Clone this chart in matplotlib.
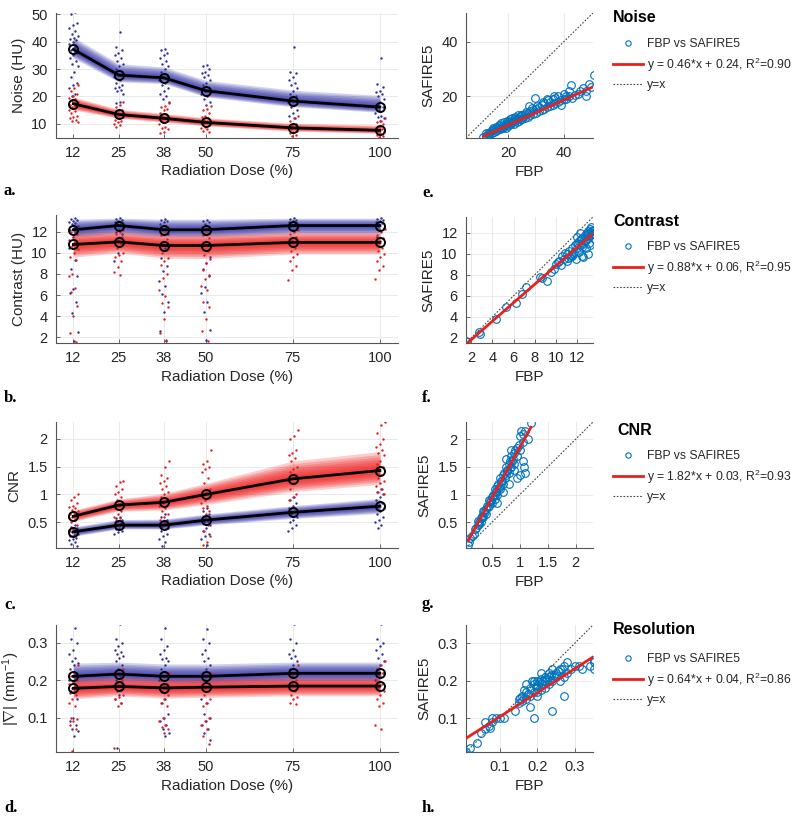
import matplotlib
matplotlib.use('Agg')
import matplotlib.pyplot as plt
import numpy as np

plt.rcParams['font.family'] = ['Liberation Sans', 'DejaVu Sans']
plt.rcParams['mathtext.fontset'] = 'custom'
plt.rcParams['mathtext.rm'] = 'Liberation Sans'
plt.rcParams['mathtext.it'] = 'Liberation Sans:italic'

# ---------------- data ----------------
doses = [12, 25, 38, 50, 75, 100]
dose_labels = ['12', '25', '38', '50', '75', '100']

# Noise (HU)
noise_fbp_mean = [37.2, 27.8, 26.8, 22.1, 18.3, 16.1]
noise_fbp_lo = [34.0, 25.3, 24.7, 19.8, 16.2, 14.2]
noise_fbp_hi = [41.7, 32.0, 30.8, 25.9, 22.3, 20.4]
noise_saf_mean = [17.3, 13.4, 12.0, 10.5, 8.5, 7.6]
noise_saf_lo = [15.0, 12.0, 10.6, 9.2, 7.3, 6.5]
noise_saf_hi = [19.8, 15.3, 13.8, 12.2, 10.2, 9.5]
noise_fbp_pts = [
    [51, 50, 47, 46, 45, 44, 43, 42, 41.5, 41, 40.5, 40, 39, 38, 37, 36, 35, 34, 33, 32, 31, 29, 27, 25, 24, 23, 21, 20],
    [43.5, 38, 37, 36, 35, 34, 33, 32, 31, 30, 29, 28, 27, 26, 25, 24, 23.5, 23, 22.5, 22, 21, 18, 17.5],
    [37.5, 37, 36, 35, 34, 33, 32, 31, 30, 29, 28, 27, 26, 25, 24, 23, 22, 21, 20, 19, 18],
    [31.5, 31, 30, 29, 28.5, 28, 27, 26, 25, 24, 23, 22, 21, 20, 19, 18, 17],
    [38, 29, 28.5, 27, 26, 25, 24, 23, 22, 21, 20, 19, 18, 17, 16, 15, 14, 13, 12],
    [34, 24.5, 23.5, 22, 21.5, 21, 20, 19, 18, 17, 16, 15, 14, 13, 12.5, 12, 11],
]
noise_saf_pts = [
    [24, 23, 22, 21, 20, 19.5, 19, 18.5, 18, 17.5, 17, 16.5, 16, 15, 14.5, 14, 13, 12.5, 12, 11.5, 11, 10.5],
    [18, 17, 16, 15, 14.5, 14, 13.5, 13, 12.5, 12, 11.5, 11, 10.5, 10, 9.5, 9],
    [17.5, 16.5, 16, 15.5, 15, 14, 13.5, 13, 12.5, 12, 11.5, 11, 10.5, 10, 9, 8.5, 8, 7, 6.5],
    [16.5, 15.5, 15, 14, 13, 12.5, 12, 11.5, 11, 10.5, 10, 9.5, 9, 8.5, 8, 7.5, 7],
    [13, 12, 11, 10, 9.5, 9, 8.5, 8, 7.5, 7, 6.5, 6, 5.5],
    [12, 11, 10.5, 10, 9, 8.5, 8, 7.5, 7, 6.5, 6, 5.5, 5],
]

# Contrast (HU)
contrast_fbp_mean = [12.2, 12.6, 12.2, 12.2, 12.6, 12.6]
contrast_fbp_lo = [11.5, 11.8, 11.5, 11.5, 11.8, 11.8]
contrast_fbp_hi = [13.2, 13.3, 13.2, 13.2, 13.3, 13.3]
contrast_saf_mean = [10.8, 11.05, 10.7, 10.7, 11.0, 11.0]
contrast_saf_lo = [9.6, 10.0, 9.5, 9.45, 9.9, 9.9]
contrast_saf_hi = [11.9, 12.1, 11.8, 11.8, 12.0, 12.0]
contrast_fbp_pts = [
    [13.3, 13.2, 13.1, 13.0, 12.9, 12.8, 12.7, 12.6, 12.4, 12.2, 12.0, 11.5, 10.5, 9.3, 8.5, 7.8, 6.6, 6.2, 5.3, 4.3, 2.5, 1.6],
    [13.3, 13.2, 13.1, 13.0, 12.9, 12.8, 12.7, 12.5, 12.3, 12.0, 11.8, 10.0, 9.2],
    [13.2, 13.1, 13.0, 12.9, 12.7, 12.5, 12.2, 11.8, 10.5, 9.5, 8.8, 8.3, 7.3, 6.9, 6.1, 5.3, 4.4, 2.6, 1.6],
    [13.1, 13.0, 12.9, 12.7, 12.5, 12.2, 11.8, 9.6, 9.0, 8.5, 7.8, 6.8, 6.2, 5.3, 4.4, 2.7, 1.7],
    [13.3, 13.2, 13.1, 13.0, 12.9, 12.8, 12.6, 12.4, 12.2],
    [13.3, 13.2, 13.1, 13.0, 12.9, 12.8, 12.6, 12.4, 12.2, 11.5],
]
contrast_saf_pts = [
    [12.4, 12.2, 12.0, 11.8, 11.5, 11.2, 11.0, 10.7, 10.4, 10.0, 9.6, 9.3, 8.0, 7.8, 6.7, 6.3, 5.0, 4.0, 2.4, 1.5],
    [12.2, 12.0, 11.8, 11.5, 11.2, 11.0, 10.8, 10.5, 10.0, 9.8, 9.6, 9.2, 8.7, 8.2, 7.9],
    [12.3, 12.0, 11.7, 11.3, 11.0, 10.7, 10.3, 10.0, 9.5, 9.2, 8.9, 8.0, 7.6, 6.5, 5.9, 5.2, 4.9, 3.7, 2.4, 1.7],
    [12.3, 12.0, 11.7, 11.4, 11.0, 10.6, 10.2, 9.8, 9.4, 9.0, 8.4, 7.9, 7.5, 6.9, 6.5, 5.3, 4.9, 3.7, 2.6, 1.6],
    [12.2, 12.0, 11.8, 11.5, 11.2, 10.9, 10.5, 10.2, 9.9, 9.6, 9.2, 8.8, 8.4, 7.4],
    [12.3, 12.0, 11.7, 11.4, 11.1, 10.8, 10.5, 10.2, 9.9, 9.6, 9.2, 8.8, 8.4, 7.5],
]

# CNR
cnr_fbp_mean = [0.33, 0.45, 0.45, 0.54, 0.68, 0.79]
cnr_fbp_lo = [0.25, 0.38, 0.38, 0.45, 0.57, 0.66]
cnr_fbp_hi = [0.42, 0.55, 0.56, 0.65, 0.80, 0.93]
cnr_saf_mean = [0.61, 0.81, 0.86, 1.00, 1.28, 1.43]
cnr_saf_lo = [0.52, 0.70, 0.72, 0.82, 1.05, 1.18]
cnr_saf_hi = [0.72, 0.92, 1.02, 1.20, 1.60, 1.77]
cnr_fbp_pts = [
    [0.45, 0.42, 0.4, 0.38, 0.36, 0.35, 0.33, 0.3, 0.28, 0.25, 0.22, 0.2, 0.18, 0.15, 0.12, 0.08],
    [0.6, 0.58, 0.55, 0.52, 0.5, 0.48, 0.45, 0.42, 0.4, 0.38, 0.35, 0.32, 0.3],
    [0.65, 0.6, 0.55, 0.5, 0.48, 0.45, 0.42, 0.4, 0.38, 0.35, 0.3, 0.25, 0.2, 0.15, 0.08],
    [0.75, 0.7, 0.65, 0.6, 0.55, 0.52, 0.5, 0.45, 0.4, 0.35, 0.3, 0.25, 0.2, 0.1],
    [0.95, 0.9, 0.85, 0.8, 0.75, 0.7, 0.65, 0.6, 0.55, 0.5, 0.45, 0.4, 0.35],
    [1.1, 1.05, 1.0, 0.95, 0.9, 0.85, 0.8, 0.75, 0.7, 0.65, 0.6, 0.55, 0.5, 0.45, 0.4],
]
cnr_saf_pts = [
    [1.0, 0.95, 0.9, 0.85, 0.8, 0.78, 0.75, 0.72, 0.7, 0.68, 0.65, 0.62, 0.6, 0.58, 0.55, 0.5, 0.45, 0.4, 0.35, 0.3, 0.25],
    [1.25, 1.22, 1.15, 1.1, 1.05, 1.0, 0.95, 0.9, 0.85, 0.8, 0.75, 0.7, 0.65, 0.6, 0.58, 0.55],
    [1.6, 1.5, 1.35, 1.3, 1.25, 1.2, 1.15, 1.1, 1.05, 1.0, 0.95, 0.9, 0.85, 0.8, 0.75, 0.7, 0.65, 0.6, 0.55, 0.5, 0.45],
    [1.8, 1.6, 1.55, 1.5, 1.45, 1.4, 1.3, 1.2, 1.1, 1.05, 1.0, 0.95, 0.9, 0.85, 0.8, 0.75, 0.7, 0.65, 0.55, 0.45, 0.35, 0.25, 0.15, 0.1],
    [2.15, 2.05, 2.0, 1.8, 1.75, 1.7, 1.65, 1.6, 1.5, 1.45, 1.4, 1.35, 1.3, 1.25, 1.2, 1.1, 1.0, 0.95, 0.9],
    [2.3, 2.25, 2.1, 2.0, 1.9, 1.85, 1.8, 1.75, 1.7, 1.6, 1.55, 1.5, 1.45, 1.4, 1.35, 1.3, 1.25, 1.2, 1.15, 1.1, 1.05, 1.0],
]

# Resolution |grad| (mm^-1)
res_fbp_mean = [0.210, 0.216, 0.210, 0.210, 0.218, 0.218]
res_fbp_lo = [0.190, 0.195, 0.190, 0.190, 0.195, 0.195]
res_fbp_hi = [0.245, 0.248, 0.243, 0.243, 0.248, 0.248]
res_saf_mean = [0.178, 0.183, 0.179, 0.181, 0.184, 0.184]
res_saf_lo = [0.150, 0.158, 0.152, 0.154, 0.158, 0.158]
res_saf_hi = [0.205, 0.208, 0.204, 0.205, 0.208, 0.208]
res_fbp_pts = [
    [0.34, 0.31, 0.3, 0.28, 0.27, 0.26, 0.25, 0.245, 0.24, 0.23, 0.22, 0.21, 0.2, 0.19, 0.17, 0.15, 0.1, 0.09, 0.08, 0.07, 0.065, 0.05],
    [0.35, 0.31, 0.3, 0.29, 0.28, 0.275, 0.27, 0.265, 0.26, 0.25, 0.24, 0.23, 0.22, 0.21, 0.2, 0.19, 0.16, 0.15, 0.14, 0.02],
    [0.34, 0.31, 0.29, 0.28, 0.27, 0.26, 0.255, 0.25, 0.24, 0.23, 0.22, 0.21, 0.2, 0.15, 0.14, 0.11, 0.1, 0.09, 0.08, 0.07, 0.06, 0.05],
    [0.335, 0.31, 0.3, 0.28, 0.27, 0.26, 0.25, 0.24, 0.23, 0.22, 0.21, 0.2, 0.15, 0.14, 0.11, 0.1, 0.09, 0.08, 0.07, 0.06, 0.04],
    [0.35, 0.31, 0.3, 0.28, 0.27, 0.265, 0.26, 0.25, 0.24, 0.23, 0.22, 0.21],
    [0.35, 0.31, 0.3, 0.29, 0.28, 0.27, 0.26, 0.25, 0.24, 0.23, 0.22, 0.21, 0.2],
]
res_saf_pts = [
    [0.24, 0.22, 0.21, 0.2, 0.195, 0.19, 0.185, 0.18, 0.175, 0.17, 0.165, 0.16, 0.15, 0.14, 0.13, 0.1, 0.095, 0.09, 0.08, 0.07, 0.01],
    [0.23, 0.22, 0.21, 0.2, 0.19, 0.18, 0.175, 0.17, 0.16, 0.155, 0.15, 0.14, 0.13, 0.02],
    [0.22, 0.21, 0.2, 0.19, 0.185, 0.18, 0.175, 0.17, 0.16, 0.15, 0.14, 0.13, 0.1, 0.09, 0.08, 0.075, 0.07, 0.06],
    [0.22, 0.21, 0.2, 0.19, 0.18, 0.175, 0.17, 0.16, 0.15, 0.14, 0.13, 0.1, 0.09, 0.08, 0.07, 0.05, 0.03],
    [0.24, 0.22, 0.21, 0.2, 0.19, 0.18, 0.17, 0.16, 0.155, 0.15, 0.14, 0.135],
    [0.25, 0.24, 0.23, 0.22, 0.21, 0.2, 0.19, 0.18, 0.17, 0.16, 0.15, 0.14, 0.13, 0.08, 0.07],
]

# FBP vs SAFIRE5 scatter data
noise_x = [11, 12, 12.5, 13, 13.5, 14, 14, 15, 15, 15.5, 16, 16, 16.5, 17, 17, 17.5, 18, 18, 18.5, 19, 19, 19.5, 20, 20, 20.5,
           21, 21, 21.5, 22, 22, 22.5, 23, 23, 23.5, 24, 24, 24.5, 25, 25, 26, 26, 27, 27, 27.5, 28, 28, 29, 29, 29.5, 30,
           30, 31, 31, 32, 32, 33, 33, 34, 34, 35, 35, 36, 36, 37, 37, 38, 38, 39, 39, 40, 40, 41, 41, 42, 42, 42.5, 43,
           44, 45, 46, 47, 48, 48, 49, 50, 51,
           12, 13, 14.5, 15.5, 16.5, 17.5, 18.5, 19.5, 20.5, 21.5, 22.5, 23.5, 24.5, 25.5, 26.5, 28.5, 30.5, 32.5, 34.5, 36.5]
noise_y = [5.2, 5.5, 6.5, 6, 7, 6.5, 7.5, 7, 8, 7.2, 7.5, 8.5, 8, 8, 9, 8.5, 8.2, 9.5, 9, 8.5, 10, 9.5, 9, 10.5, 9.8,
           10, 11, 10.5, 10, 11.5, 10.8, 10.5, 12, 11.5, 11, 12.5, 11.8, 11.5, 13, 12, 13.5, 12.5, 14, 16.5, 13, 14.5, 13.5, 15, 19.5, 14,
           15.5, 14.5, 16, 15, 17, 15.5, 17.5, 16, 19, 16.5, 18, 17, 19, 17.5, 19.5, 18, 20, 18.5, 17, 19, 21, 19, 20, 20, 22, 24, 19.5,
           20.5, 21, 22, 23, 22, 20, 24.5, 23.5, 28,
           6.5, 5.8, 8.2, 8.8, 9.5, 10.2, 10.5, 11, 11.8, 12, 12.5, 13, 13.3, 12.8, 14.2, 15.8, 16.5, 18, 18.5, 20]
contrast_x = [1.5, 2.7, 2.8, 4.3, 5.3, 6.2, 6.8, 7.2, 8.5, 8.7, 9.2, 9.5, 9.8, 10.0, 10.2, 10.3, 10.5, 10.6, 10.8, 11, 11, 11.2,
              11.3, 11.5, 11.5, 11.7, 11.8, 12, 12, 12.2, 12.2, 12.4, 12.5, 12.5, 12.6, 12.7, 12.8, 12.9, 13, 13, 13.1, 13.2,
              13.3, 13.3, 13.4, 12.8, 13.2, 11.9, 12.3, 12.0, 13.0, 12.6, 13.4, 13.5, 11.4, 10.9,
              12.1, 12.4, 12.7, 12.9, 13.1, 13.3, 13.5, 11.6, 11.1, 12.5]
contrast_y = [1.7, 2.5, 2.4, 3.8, 4.9, 5.3, 6.2, 6.8, 7.8, 7.7, 7.4, 8.3, 8.5, 9.0, 9.2, 9.3, 8.9, 9.8, 9.5, 10, 9.3, 10.3,
              9.7, 10.5, 9.8, 10.2, 10.8, 10.5, 11, 10.2, 11.2, 10.8, 11.5, 9.8, 11, 11.8, 11.3, 12, 11.5, 12.2, 11, 12.4,
              11.8, 12.5, 12.2, 10.5, 10.8, 9.5, 12.0, 11.6, 10.0, 9.7, 11.9, 12.3, 9.9, 10.1,
              10.9, 11.4, 11.2, 11.7, 12.0, 12.1, 12.0, 10.0, 9.6, 10.6]
cnr_x = [0.08, 0.1, 0.12, 0.15, 0.18, 0.2, 0.22, 0.25, 0.25, 0.28, 0.3, 0.3, 0.33, 0.35, 0.35, 0.38, 0.4, 0.4, 0.42, 0.45,
         0.45, 0.48, 0.5, 0.5, 0.52, 0.55, 0.55, 0.58, 0.6, 0.6, 0.62, 0.65, 0.65, 0.68, 0.7, 0.7, 0.72, 0.75, 0.75, 0.78,
         0.8, 0.8, 0.82, 0.85, 0.85, 0.88, 0.9, 0.9, 0.92, 0.95, 0.95, 0.98, 1.0, 1.0, 1.02, 1.05, 1.05, 1.05, 1.1, 1.1,
         1.08, 1.15, 1.2, 0.6, 0.7, 0.8, 0.95, 1.0, 0.9, 0.75, 0.85,
         0.27, 0.32, 0.37, 0.43, 0.47, 0.53, 0.57, 0.63, 0.67, 0.73, 0.77, 0.83, 0.87, 0.55, 0.65]
cnr_y = [0.1, 0.15, 0.22, 0.25, 0.3, 0.38, 0.4, 0.45, 0.52, 0.5, 0.58, 0.5, 0.62, 0.6, 0.7, 0.68, 0.75, 0.65, 0.8, 0.8,
         0.9, 0.88, 0.95, 0.85, 1.0, 1.0, 1.1, 1.05, 1.15, 1.0, 1.2, 1.15, 1.3, 1.25, 1.35, 1.2, 1.4, 1.35, 1.5, 1.45,
         1.55, 1.4, 1.6, 1.5, 1.7, 1.65, 1.75, 1.55, 1.8, 1.7, 1.85, 1.9, 2.05, 1.8, 2.15, 1.95, 1.6, 2.1, 2.15, 1.4,
         1.5, 2.0, 2.3, 0.85, 1.05, 1.2, 1.3, 1.35, 1.45, 1.65, 1.8,
         0.48, 0.6, 0.7, 0.78, 0.88, 0.98, 1.06, 1.12, 1.24, 1.3, 1.42, 1.48, 1.6, 0.92, 1.1]
res_x = [0.01, 0.02, 0.04, 0.05, 0.06, 0.06, 0.07, 0.075, 0.08, 0.08, 0.09, 0.1, 0.11, 0.14, 0.15, 0.15, 0.16, 0.16, 0.17,
         0.17, 0.18, 0.18, 0.18, 0.19, 0.19, 0.19, 0.2, 0.2, 0.2, 0.21, 0.21, 0.22, 0.22, 0.22, 0.23, 0.23, 0.24, 0.24,
         0.24, 0.25, 0.25, 0.26, 0.26, 0.27, 0.27, 0.27, 0.28, 0.28, 0.29, 0.3, 0.31, 0.32, 0.34, 0.35, 0.35, 0.35, 0.17,
         0.21, 0.23, 0.155, 0.165, 0.185,
         0.175, 0.195, 0.205, 0.215, 0.225, 0.235, 0.245, 0.255, 0.265, 0.2, 0.19, 0.21]
res_y = [0.01, 0.02, 0.035, 0.06, 0.07, 0.09, 0.08, 0.075, 0.1, 0.09, 0.1, 0.1, 0.1, 0.12, 0.14, 0.15, 0.16, 0.145, 0.17,
         0.15, 0.18, 0.16, 0.13, 0.19, 0.17, 0.1, 0.2, 0.18, 0.16, 0.205, 0.19, 0.21, 0.18, 0.2, 0.22, 0.19, 0.12, 0.2,
         0.23, 0.21, 0.22, 0.23, 0.2, 0.24, 0.16, 0.21, 0.22, 0.25, 0.23, 0.24, 0.24, 0.23, 0.24, 0.25, 0.255, 0.23, 0.19,
         0.22, 0.21, 0.155, 0.175, 0.2,
         0.165, 0.185, 0.195, 0.2, 0.205, 0.215, 0.215, 0.225, 0.23, 0.17, 0.2, 0.175]

fit_slopes = [0.46, 0.88, 1.82, 0.64]
fit_intercepts = [0.24, 0.06, 0.03, 0.04]
fit_r2 = ['0.90', '0.95', '0.93', '0.86']
titles = ['Noise', 'Contrast', 'CNR', 'Resolution']

# ---------------- style ----------------
BLUE_PT = '#2e2e9c'
BLUE_BAND = '#3636a8'
RED_PT = '#e01e1e'
RED_BAND = '#f01e1e'
SC_BLUE = '#0072bd'
AX_COL = '#555555'
TXT = '#262626'

W, H = 800, 822
fig = plt.figure(figsize=(W / 100, H / 100), dpi=100)


def ax_at(left, top, right, bottom):
    return fig.add_axes([left / W, 1 - bottom / H, (right - left) / W, (bottom - top) / H])


def style_ax(ax):
    for s in ['top', 'right']:
        ax.spines[s].set_visible(False)
    for s in ['left', 'bottom']:
        ax.spines[s].set_color(AX_COL)
        ax.spines[s].set_linewidth(0.8)
    ax.tick_params(direction='in', length=3, width=0.6, color=AX_COL, labelsize=10.5, labelcolor=TXT, pad=6)
    ax.grid(True, color='#e6e6e6', linewidth=0.6)
    ax.set_axisbelow(True)


def band(ax, mean, lo, hi, color):
    mean = np.asarray(mean); lo = np.asarray(lo); hi = np.asarray(hi)
    for f in [1.0, 0.85, 0.72, 0.6, 0.48, 0.36, 0.24]:
        ax.fill_between(doses, mean - f * (mean - lo), mean + f * (hi - mean), color=color, alpha=0.22, lw=0)


def dots(ax, groups, color, phase):
    for d, vals in zip(doses, groups):
        n = len(vals)
        off = [(((i + 1) * 0.6180339887 + phase) % 1.0 - 0.5) * 2.8 for i in range(n)]
        ax.scatter([d + o for o in off], vals, s=3, color=color, lw=0, zorder=3)


def left_panel(top, bottom, fm, flo, fhi, fpts, sm, slo, shi, spts, ylim, yticks, ylabel):
    ax = ax_at(56, top, 398, bottom)
    style_ax(ax)
    band(ax, fm, flo, fhi, BLUE_BAND)
    band(ax, sm, slo, shi, RED_BAND)
    dots(ax, fpts, BLUE_PT, 0.0)
    dots(ax, spts, RED_PT, 0.37)
    for m in (fm, sm):
        ax.plot(doses, m, color='black', lw=2, marker='o', ms=6.5, mfc='none', mec='black', mew=1.4, zorder=5)
    ax.set_xlim(7, 105.2)
    ax.set_ylim(*ylim)
    ax.set_xticks(doses)
    ax.set_xticklabels(dose_labels)
    ax.set_yticks(yticks)
    ax.set_yticklabels([('%g' % t) for t in yticks])
    ax.set_xlabel('Radiation Dose (%)', fontsize=11, color=TXT, labelpad=3)
    ax.set_ylabel(ylabel, fontsize=11, color=TXT, labelpad=4)
    return ax


def right_panel(top, bottom, x, y, k, lim, ticks, legend_top):
    ax = ax_at(466, top, 593, bottom)
    style_ax(ax)
    ax.plot(x, y, linestyle='none', marker='o', ms=5.5, mfc='none', mec=SC_BLUE, mew=0.8,
            label='FBP vs SAFIRE5', zorder=3)
    xs = np.array([min(x), max(x)])
    ax.plot(xs, fit_slopes[k] * xs + fit_intercepts[k], color='#e8201e', lw=2, zorder=4,
            label='y = %.2f*x + %.2f, R$^2$=%s' % (fit_slopes[k], fit_intercepts[k], fit_r2[k]))
    ax.plot(lim, lim, color='#444444', lw=0.8, linestyle=(0, (1.5, 1.5)), zorder=2, label='y=x')
    ax.set_xlim(*lim)
    ax.set_ylim(*lim)
    ax.set_xticks(ticks)
    ax.set_xticklabels([('%g' % t) for t in ticks])
    ax.set_yticks(ticks)
    ax.set_yticklabels([('%g' % t) for t in ticks])
    ax.set_xlabel('FBP', fontsize=11, color=TXT, labelpad=3)
    ax.set_ylabel('SAFIRE5', fontsize=11, color=TXT, labelpad=4)
    fig.legend(*ax.get_legend_handles_labels(), loc='upper left',
               bbox_to_anchor=(613 / W, 1 - legend_top / H), frameon=False, borderpad=0,
               borderaxespad=0, fontsize=8.7, handlelength=2.5, handletextpad=0.3,
               labelspacing=0.45, numpoints=1, markerscale=0.7, labelcolor=TXT)
    return ax


# left panels
left_panel(13, 138, noise_fbp_mean, noise_fbp_lo, noise_fbp_hi, noise_fbp_pts,
           noise_saf_mean, noise_saf_lo, noise_saf_hi, noise_saf_pts,
           (4.8, 50.5), [10, 20, 30, 40, 50], 'Noise (HU)')
left_panel(215, 343, contrast_fbp_mean, contrast_fbp_lo, contrast_fbp_hi, contrast_fbp_pts,
           contrast_saf_mean, contrast_saf_lo, contrast_saf_hi, contrast_saf_pts,
           (1.45, 13.6), [2, 4, 6, 8, 10, 12], 'Contrast (HU)')
left_panel(422, 548, cnr_fbp_mean, cnr_fbp_lo, cnr_fbp_hi, cnr_fbp_pts,
           cnr_saf_mean, cnr_saf_lo, cnr_saf_hi, cnr_saf_pts,
           (0.04, 2.3), [0.5, 1, 1.5, 2], 'CNR')
left_panel(625, 752, res_fbp_mean, res_fbp_lo, res_fbp_hi, res_fbp_pts,
           res_saf_mean, res_saf_lo, res_saf_hi, res_saf_pts,
           (0.008, 0.347), [0.1, 0.2, 0.3], r'$|\nabla|$ (mm$^{-1}$)')

# right panels
right_panel(13, 138, noise_x, noise_y, 0, (4.7, 50.6), [20, 40], 38)
right_panel(217, 343, contrast_x, contrast_y, 1, (1.5, 13.5), [2, 4, 6, 8, 10, 12], 241)
right_panel(422, 548, cnr_x, cnr_y, 2, (0.04, 2.31), [0.5, 1, 1.5, 2], 450)
right_panel(625, 752, res_x, res_y, 3, (0.01, 0.348), [0.1, 0.2, 0.3], 653)

# legend titles
for t, (xp, yp) in zip(titles, [(613, 17), (613, 222), (617, 430), (613, 630)]):
    fig.text(xp / W, 1 - yp / H, t, fontsize=11.5, fontweight='bold', color='black', va='center', ha='left')

# panel letters
for t, (xp, yp) in zip(['a.', 'b.', 'c.', 'd.', 'e.', 'f.', 'g.', 'h.'],
                       [(4, 191), (4, 398), (4, 605), (4, 808), (422, 193), (422, 398), (422, 604), (422, 808)]):
    fig.text(xp / W, 1 - yp / H, t, fontsize=12, fontweight='bold', family='Liberation Serif',
             color='black', va='center', ha='left')

fig.savefig('out.png', dpi=100)
